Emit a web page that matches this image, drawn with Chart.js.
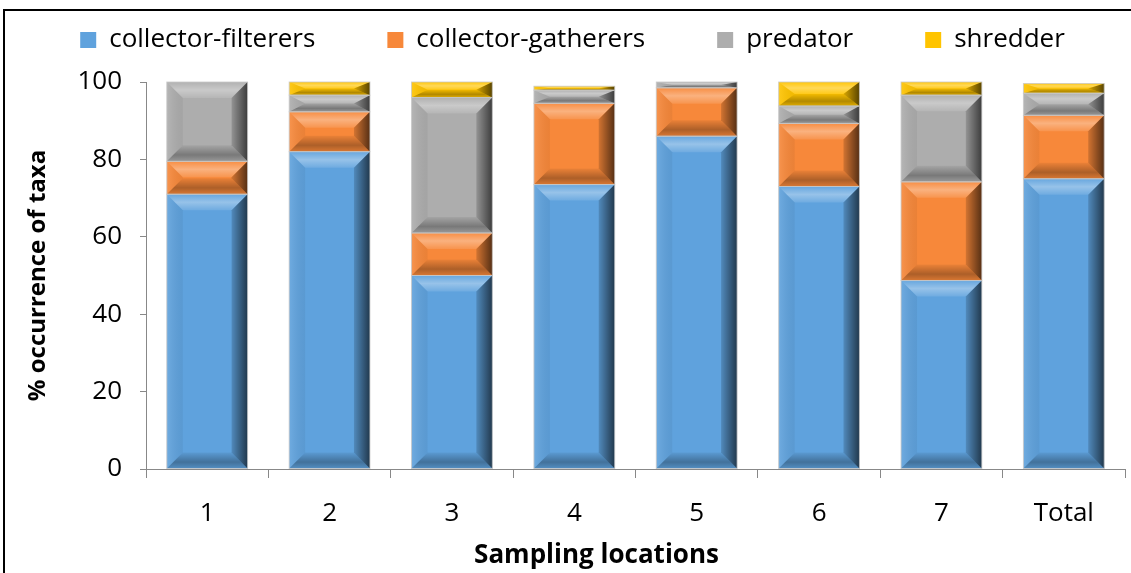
<!DOCTYPE html>
<html>
<head>
<meta charset="utf-8">
<script src="https://cdn.jsdelivr.net/npm/chart.js@4.4.1/dist/chart.umd.min.js"></script>
<style>
  html, body { margin: 0; padding: 0; background: #fff; }
  #wrap { position: relative; width: 1131px; height: 573px; }
  #frame { position: absolute; left: 3px; top: 9px; width: 1140px; height: 600px; border: 2px solid #000; box-sizing: border-box; pointer-events: none; }
</style>
</head>
<body>
<div id="wrap">
  <canvas id="myChart" width="1131" height="573"></canvas>
  <div id="frame"></div>
</div>
<script>
// sampling locations on x axis
const locations = ['1', '2', '3', '4', '5', '6', '7', 'Total'];

// % occurrence per feeding group
const filterers = [71, 82, 50, 73.5, 86, 73, 48.7, 75];
const gatherers = [8.5, 10.3, 11, 21, 12.5, 16.3, 25.5, 16.4];
const predator = [20.5, 4.3, 35, 3.4, 1.5, 4.5, 22.4, 5.7];
const shredder = [0, 3.4, 4, 1, 0, 6.2, 3.4, 2.5];

const yTicks = [0, 20, 40, 60, 80, 100];

const FONT = 'Open Sans';

// bevel look like the Excel bars
const bevelPlugin = {
    id: 'bevel',
    beforeInit: function (chart) {
        // give the legend some more room below it
        const legend = chart.legend;
        if (!legend) return;
        const fit = legend.fit;
        legend.fit = function () {
            fit.call(this);
            this.height += 19;
        };
    },
    afterDatasetsDraw: function (chart) {
        const ctx = chart.ctx;
        chart.data.datasets.forEach(function (ds, i) {
            const meta = chart.getDatasetMeta(i);
            meta.data.forEach(function (bar) {
                const left = bar.x - bar.width / 2;
                const right = bar.x + bar.width / 2;
                const top = Math.min(bar.y, bar.base);
                const bottom = Math.max(bar.y, bar.base);
                const h = bottom - top;
                if (h < 1) return;
                const d = Math.min(16, h / 2);
                const dx = Math.min(16, bar.width / 2);
                ctx.save();
                // top band
                let g = ctx.createLinearGradient(0, top, 0, top + d);
                g.addColorStop(0, 'rgba(255,255,255,0.05)');
                g.addColorStop(0.5, 'rgba(255,255,255,0.35)');
                g.addColorStop(1, 'rgba(255,255,255,0.1)');
                ctx.fillStyle = g;
                ctx.beginPath();
                ctx.moveTo(left, top);
                ctx.lineTo(right, top);
                ctx.lineTo(right - dx, top + d);
                ctx.lineTo(left + dx, top + d);
                ctx.closePath();
                ctx.fill();
                // bottom band
                g = ctx.createLinearGradient(0, bottom - d, 0, bottom);
                g.addColorStop(0, 'rgba(0,0,0,0.05)');
                g.addColorStop(0.6, 'rgba(0,0,0,0.3)');
                g.addColorStop(1, 'rgba(0,0,0,0.12)');
                ctx.fillStyle = g;
                ctx.beginPath();
                ctx.moveTo(left, bottom);
                ctx.lineTo(right, bottom);
                ctx.lineTo(right - dx, bottom - d);
                ctx.lineTo(left + dx, bottom - d);
                ctx.closePath();
                ctx.fill();
                // right side
                g = ctx.createLinearGradient(right - dx, 0, right, 0);
                g.addColorStop(0, 'rgba(0,0,0,0.15)');
                g.addColorStop(1, 'rgba(0,0,0,0.65)');
                ctx.fillStyle = g;
                ctx.beginPath();
                ctx.moveTo(right, top);
                ctx.lineTo(right, bottom);
                ctx.lineTo(right - dx, bottom - d);
                ctx.lineTo(right - dx, top + d);
                ctx.closePath();
                ctx.fill();
                // left side
                g = ctx.createLinearGradient(left, 0, left + dx, 0);
                g.addColorStop(0, 'rgba(255,255,255,0.1)');
                g.addColorStop(1, 'rgba(0,0,0,0.05)');
                ctx.fillStyle = g;
                ctx.beginPath();
                ctx.moveTo(left, top);
                ctx.lineTo(left, bottom);
                ctx.lineTo(left + dx, bottom - d);
                ctx.lineTo(left + dx, top + d);
                ctx.closePath();
                ctx.fill();
                ctx.strokeStyle = 'rgba(200,200,200,0.8)';
                ctx.lineWidth = 1;
                ctx.strokeRect(left, top, bar.width, h);
                ctx.restore();
            });
        });
    }
};

function makeSet(label, data, color) {
    return {
        label: label,
        data: data,
        backgroundColor: color,
        borderWidth: 0,
        barPercentage: 0.66,
        categoryPercentage: 1
    };
}

const ctx = document.getElementById('myChart').getContext('2d');
const chart = new Chart(ctx, {
    type: 'bar',
    data: {
        labels: locations,
        datasets: [
            makeSet('collector-filterers', filterers, '#5fa2dd'),
            makeSet('collector-gatherers', gatherers, '#f7883a'),
            makeSet('predator', predator, '#adadad'),
            makeSet('shredder', shredder, '#ffc400')
        ]
    },
    options: {
        responsive: false,
        animation: false,
        layout: { padding: { left: 20, right: 6, top: 7, bottom: 0 } },
        plugins: {
            tooltip: { enabled: false },
            legend: {
                position: 'top',
                labels: {
                    font: { family: FONT, size: 26 },
                    color: '#000',
                    boxWidth: 16,
                    boxHeight: 16,
                    padding: 20,
                    generateLabels: function (chart) {
                        const items = Chart.defaults.plugins.legend.labels.generateLabels(chart);
                        // wider gaps between entries, as in the figure
                        items.forEach(function (it, i) {
                            if (i < items.length - 1) it.text = it.text + '\u2003\u2003';
                        });
                        return items;
                    }
                }
            }
        },
        scales: {
            x: {
                stacked: true,
                afterFit: function (scale) { scale.height = 104; },
                grid: { offset: true, drawOnChartArea: false, drawTicks: true, tickLength: 9, color: '#888' },
                border: { color: '#888' },
                ticks: { font: { family: FONT, size: 26 }, color: '#000', padding: 20 },
                title: {
                    display: true,
                    // title sits a little left of the plot centre in the figure
                    text: 'Sampling locations\u2003\u2003\u2003',
                    font: { family: FONT, size: 26, weight: 'bold' },
                    color: '#000',
                    padding: { top: 4, bottom: 2 }
                }
            },
            y: {
                stacked: true,
                min: 0,
                max: 100,
                afterBuildTicks: function (scale) {
                    scale.ticks = yTicks.map(v => ({ value: v }));
                },
                afterFit: function (scale) { scale.width = 126; },
                grid: { drawOnChartArea: false, drawTicks: true, tickLength: 6, color: '#888' },
                border: { color: '#888' },
                ticks: { font: { family: FONT, size: 26 }, color: '#000', padding: 18 },
                title: { display: true, text: '% occurrence of taxa', font: { family: FONT, size: 24, weight: 'bold' }, color: '#000', padding: { bottom: 10 } }
            }
        }
    },
    plugins: [bevelPlugin]
});
</script>
</body>
</html>
